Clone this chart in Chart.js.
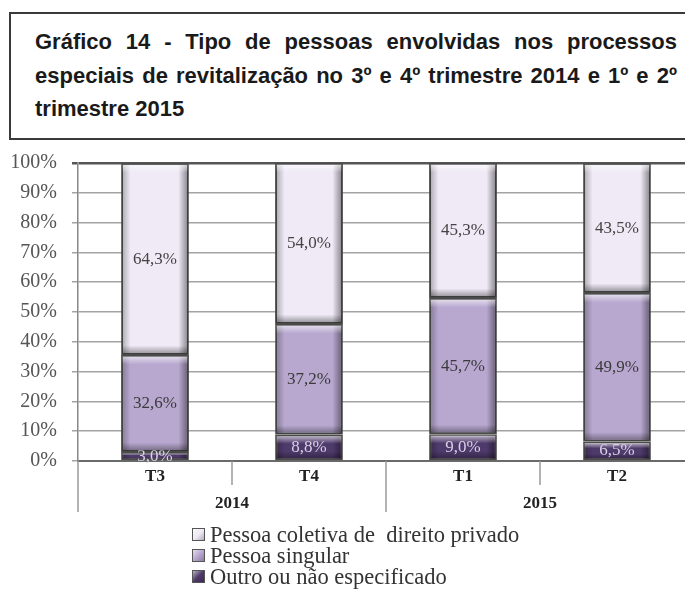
<!DOCTYPE html>
<html>
<head>
<meta charset="utf-8">
<script src="https://cdn.jsdelivr.net/npm/chart.js@4"></script>
<style>
  body { margin: 0; background: #fff; width: 685px; height: 589px; overflow: hidden; position: relative; }
  .title-box {
    position: absolute; left: 9px; top: 12px; width: 720px; height: 124px;
    border: 2px solid #3a3a3a; box-sizing: content-box;
  }
  .title-box div {
    position: absolute; left: 24px; width: 642px;
    font: bold 22px "Liberation Sans", Arial, sans-serif; color: #1a1a1a;
    line-height: 33px; white-space: nowrap;
  }
  .title-box .j { text-align: justify; text-align-last: justify; white-space: normal; }
  #wrap { position: absolute; left: 0; top: 140px; }
  #legend { position: absolute; left: 192px; top: 524px; font: 22.5px "Liberation Serif", serif; color: #333; }
  #legend .row { height: 21px; line-height: 21px; display: flex; align-items: center; white-space: pre; }
  #legend .box { width: 11px; height: 11px; border: 1px solid #555; margin-right: 5px; }
</style>
</head>
<body>
<div class="title-box">
  <div class="j" style="top:11px">Gráfico 14 - Tipo de pessoas envolvidas nos processos</div>
  <div class="j" style="top:45px">especiais de revitalização no 3º e 4º trimestre 2014 e 1º e 2º</div>
  <div style="top:78px">trimestre 2015</div>
</div>
<div id="wrap"><canvas id="chart" width="700" height="385"></canvas></div>
<div id="legend"></div>
<script>
// data
const categories = ['T3', 'T4', 'T1', 'T2'];
const quarterYears = ['2014', '2014', '2015', '2015'];
const coletiva = [64.3, 54.0, 45.3, 43.5];
const singular = [32.6, 37.2, 45.7, 49.9];
const outro = [3.0, 8.8, 9.0, 6.5];
const yTicks = [0, 10, 20, 30, 40, 50, 60, 70, 80, 90, 100];

const serif = '"Liberation Serif", "Times New Roman", serif';

const datasets = [
  { label: 'Outro ou não especificado', data: outro, backgroundColor: '#4f3a6c', textColor: '#d8d0e4' },
  { label: 'Pessoa singular', data: singular, backgroundColor: '#b8a8d0', textColor: '#3a3a3a' },
  { label: 'Pessoa coletiva de  direito privado', data: coletiva, backgroundColor: '#efeaf6', textColor: '#444' },
];

const fmt = (v) => v.toFixed(1).replace('.', ',') + '%';

// bevel shading + value labels on each bar segment
const barDecor = {
  id: 'barDecor',
  afterDatasetsDraw(chart) {
    const ctx = chart.ctx;
    chart.data.datasets.forEach((ds, di) => {
      const meta = chart.getDatasetMeta(di);
      meta.data.forEach((el, i) => {
        const { x, y, base, width } = el.getProps(['x', 'y', 'base', 'width'], true);
        const l = x - width / 2 + 1.5, r = x + width / 2 - 1.5;
        const t = Math.min(y, base) + 1.5, b = Math.max(y, base) - 1.5;
        const h = b - t;
        if (h <= 0) return;
        const e = Math.min(8, h / 3);
        ctx.save();
        let g = ctx.createLinearGradient(l, 0, l + 8, 0);
        g.addColorStop(0, 'rgba(0,0,0,0.25)'); g.addColorStop(1, 'rgba(0,0,0,0)');
        ctx.fillStyle = g; ctx.fillRect(l, t, 8, h);
        g = ctx.createLinearGradient(r, 0, r - 9, 0);
        g.addColorStop(0, 'rgba(0,0,0,0.4)'); g.addColorStop(1, 'rgba(0,0,0,0)');
        ctx.fillStyle = g; ctx.fillRect(r - 9, t, 9, h);
        g = ctx.createLinearGradient(0, t, 0, t + e);
        g.addColorStop(0, 'rgba(255,255,255,0.6)'); g.addColorStop(1, 'rgba(255,255,255,0)');
        ctx.fillStyle = g; ctx.fillRect(l, t, r - l, e);
        g = ctx.createLinearGradient(0, b, 0, b - e);
        g.addColorStop(0, 'rgba(0,0,0,0.35)'); g.addColorStop(1, 'rgba(0,0,0,0)');
        ctx.fillStyle = g; ctx.fillRect(l, b - e, r - l, e);
        ctx.restore();

        ctx.save();
        ctx.font = '17px ' + serif;
        ctx.fillStyle = ds.textColor;
        ctx.textAlign = 'center';
        ctx.textBaseline = 'middle';
        ctx.fillText(fmt(ds.data[i]), x, (y + base) / 2);
        ctx.restore();
      });
    });
  }
};

// second level of the category axis: separators and year labels
const yearAxis = {
  id: 'yearAxis',
  afterDraw(chart) {
    const ctx = chart.ctx;
    const xs = chart.scales.x;
    const cw = xs.width / categories.length;
    const y0 = xs.top;
    ctx.save();
    ctx.strokeStyle = '#9a9a9a';
    ctx.lineWidth = 1.5;
    for (let i = 0; i <= categories.length; i++) {
      const px = xs.left + i * cw;
      const edge = i === 0 || i === categories.length || quarterYears[i] !== quarterYears[i - 1];
      ctx.beginPath();
      ctx.moveTo(px, y0);
      ctx.lineTo(px, y0 + (edge ? 51 : 24));
      ctx.stroke();
    }
    ctx.font = 'bold 17px ' + serif;
    ctx.fillStyle = '#222';
    ctx.textAlign = 'center';
    ctx.textBaseline = 'middle';
    let start = 0;
    for (let i = 1; i <= categories.length; i++) {
      if (i === categories.length || quarterYears[i] !== quarterYears[start]) {
        const mid = (xs.getPixelForValue(start) + xs.getPixelForValue(i - 1)) / 2;
        ctx.fillText(quarterYears[start], mid, y0 + 43);
        start = i;
      }
    }
    ctx.restore();
  }
};

const chart = new Chart(document.getElementById('chart'), {
  type: 'bar',
  data: {
    labels: categories,
    datasets: datasets.map((d) => ({
      ...d,
      borderColor: '#4a4a4a',
      borderWidth: 2,
      borderSkipped: false,
      categoryPercentage: 1,
      barPercentage: 0.44,
    })),
  },
  options: {
    responsive: false,
    animation: false,
    layout: { padding: { top: 23, right: 6, left: 0, bottom: 0 } },
    plugins: { legend: { display: false }, tooltip: { enabled: false } },
    scales: {
      x: {
        stacked: true,
        grid: { display: false, drawTicks: false },
        border: { display: true, color: '#6a6a6a', width: 2 },
        ticks: { font: { family: serif, size: 17, weight: 'bold' }, color: '#222', padding: 5 },
        afterFit: (s) => { s.height = 64; },
      },
      y: {
        stacked: true,
        min: 0,
        max: 100,
        afterBuildTicks: (s) => { s.ticks = yTicks.map((v) => ({ value: v })); },
        grid: {
          color: (c) => (c.tick && c.tick.value === 100 ? '#555' : '#a3a3a3'),
          lineWidth: (c) => (c.tick && c.tick.value === 100 ? 2.5 : 1.5),
          tickLength: 6,
        },
        border: { display: true, color: '#888', width: 1.5 },
        ticks: { font: { family: serif, size: 20 }, color: '#555', padding: 15, callback: (v) => v + '%' },
        afterFit: (s) => { s.width = 78; s.paddingTop = 0; s.paddingBottom = 0; },
      },
    },
  },
  plugins: [barDecor, yearAxis],
});

// vertical legend, top segment first
const legend = document.getElementById('legend');
chart.data.datasets.slice().reverse().forEach((ds) => {
  const row = document.createElement('div');
  row.className = 'row';
  const box = document.createElement('span');
  box.className = 'box';
  box.style.background = 'linear-gradient(135deg, rgba(255,255,255,0.6), rgba(255,255,255,0) 50%, rgba(0,0,0,0.25)), ' + ds.backgroundColor;
  row.appendChild(box);
  row.appendChild(document.createTextNode(ds.label));
  legend.appendChild(row);
});
</script>
</body>
</html>
